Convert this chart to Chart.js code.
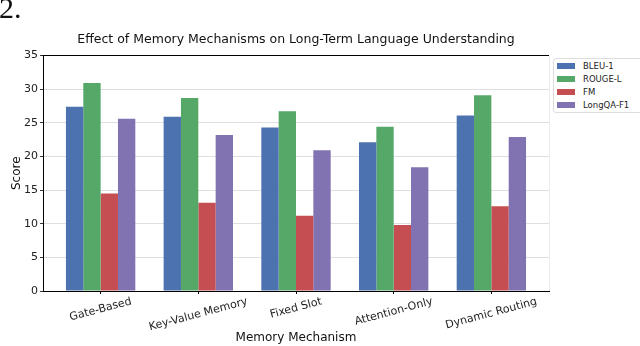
<!DOCTYPE html>
<html>
<head>
<meta charset="utf-8">
<script src="https://cdn.jsdelivr.net/npm/chart.js@4"></script>
<style>
  body { margin: 0; background: #fff; }
  #wrap { position: relative; width: 640px; height: 346px; overflow: hidden; background: #fff; }
  #fig { position: absolute; left: -1px; top: -9px; font-family: "Liberation Serif", "DejaVu Serif", serif; font-size: 30px; color: #111; }
  #legend { position: absolute; left: 553px; top: 58px; width: 100px; padding-top: 1px; border: 1px solid #ddd; border-radius: 3px; background: #fff; font-family: "DejaVu Sans", sans-serif; font-size: 8.5px; color: #222; }
  #legend div { height: 13px; line-height: 13px; white-space: nowrap; }
  #legend span { display: inline-block; width: 18px; height: 6px; margin: 0 8px 0 3px; vertical-align: middle; position: relative; top: -1px; }
</style>
</head>
<body>
<div id="wrap">
  <canvas id="chart" width="640" height="346"></canvas>
  <div id="fig">2.</div>
  <div id="legend"></div>
</div>
<script>
// categorias y series
const categories = ['Gate-Based', 'Key-Value Memory', 'Fixed Slot', 'Attention-Only', 'Dynamic Routing'];
const seriesNames = ['BLEU-1', 'ROUGE-L', 'FM', 'LongQA-F1'];
const bleu = [27.4, 25.9, 24.3, 22.1, 26.1];
const rouge = [30.9, 28.7, 26.7, 24.4, 29.1];
const fm = [14.5, 13.1, 11.2, 9.8, 12.6];
const longqa = [25.6, 23.2, 20.9, 18.4, 22.9];
const yTicks = [0, 5, 10, 15, 20, 25, 30, 35];
const colors = ['#4c72b0', '#55a868', '#c44e52', '#8172b2'];

const seriesValues = [bleu, rouge, fm, longqa];

const datasets = seriesValues.map(function(vals, k) {
    return {
        label: seriesNames[k],
        data: vals.map(function(v, i) { return { x: i, y: v }; }),
        backgroundColor: colors[k],
        borderWidth: 0,
        barPercentage: 1,
        categoryPercentage: 0.71
    };
});

// leyenda en HTML
const legendDiv = document.getElementById('legend');
seriesNames.forEach(function(name, k) {
    legendDiv.innerHTML += '<div><span style="background:' + colors[k] + '"></span>' + name + '</div>';
});

// etiquetas del eje x rotadas y centradas como en matplotlib, y borde superior
const extrasPlugin = {
    id: 'extras',
    afterDraw(chart) {
        const ctx = chart.ctx;
        const area = chart.chartArea;
        const xs = chart.scales.x;
        ctx.save();
        ctx.strokeStyle = '#000';
        ctx.lineWidth = 1;
        ctx.beginPath();
        ctx.moveTo(area.left - 0.5, Math.round(area.top) - 0.5);
        ctx.lineTo(area.right, Math.round(area.top) - 0.5);
        ctx.stroke();
        ctx.strokeStyle = 'rgba(0,0,0,0.08)';
        ctx.beginPath();
        ctx.moveTo(Math.round(area.right) + 0.5, area.top);
        ctx.lineTo(Math.round(area.right) + 0.5, area.bottom);
        ctx.stroke();

        const ang = 15 * Math.PI / 180;
        ctx.font = '11px "DejaVu Sans"';
        ctx.fillStyle = '#222';
        ctx.textAlign = 'center';
        ctx.textBaseline = 'middle';
        const fh = 11;
        categories.forEach(function(label, i) {
            const px = xs.getPixelForValue(i);
            const w = ctx.measureText(label).width;
            const boxH = w * Math.sin(ang) + fh * Math.cos(ang);
            const cy = area.bottom + 5 + boxH / 2;
            ctx.save();
            ctx.translate(px, cy);
            ctx.rotate(-ang);
            ctx.fillText(label, 0, 0);
            ctx.restore();
        });
        ctx.restore();
    }
};

new Chart(document.getElementById('chart'), {
    type: 'bar',
    data: { datasets: datasets },
    plugins: [extrasPlugin],
    options: {
        responsive: false,
        animation: false,
        layout: { padding: { top: 32.5, left: 0, right: 91, bottom: 0 } },
        plugins: {
            legend: { display: false },
            tooltip: { enabled: false },
            title: {
                display: true,
                fullSize: false,
                text: 'Effect of Memory Mechanisms on Long-Term Language Understanding',
                color: '#111',
                font: { family: 'DejaVu Sans', size: 12.5, weight: 'normal' },
                padding: { top: 0, bottom: 8 }
            }
        },
        scales: {
            x: {
                type: 'linear',
                min: -0.59,
                max: 4.59,
                offset: false,
                afterBuildTicks: function(scale) {
                    scale.ticks = categories.map(function(c, i) { return { value: i }; });
                },
                afterFit: function(scale) { scale.height = 55; },
                ticks: { display: false },
                grid: { offset: false, drawOnChartArea: false, drawTicks: true, tickLength: 3, tickColor: '#000' },
                border: { color: '#000', width: 1 },
                title: {
                    display: true,
                    text: 'Memory Mechanism',
                    color: '#111',
                    font: { family: 'DejaVu Sans', size: 12 },
                    padding: { top: 0, bottom: 1 }
                }
            },
            y: {
                min: 0,
                max: 35,
                afterBuildTicks: function(scale) {
                    scale.ticks = yTicks.map(function(v) { return { value: v }; });
                },
                afterFit: function(scale) { scale.width = 43; },
                ticks: {
                    color: '#222',
                    font: { family: 'DejaVu Sans', size: 11 },
                    padding: 2
                },
                grid: {
                    color: 'rgba(0,0,0,0.16)',
                    lineWidth: 0.8,
                    borderDash: [3, 2],
                    tickLength: 3,
                    tickColor: '#000',
                    tickBorderDash: []
                },
                border: { color: '#000', width: 1 },
                title: {
                    display: true,
                    text: 'Score',
                    color: '#111',
                    font: { family: 'DejaVu Sans', size: 12 },
                    padding: { top: 9.5, bottom: 0 }
                }
            }
        }
    }
});
</script>
</body>
</html>
